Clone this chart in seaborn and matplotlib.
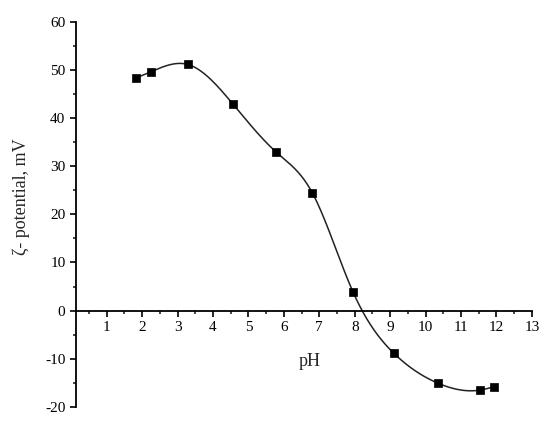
import numpy as np
import pandas as pd
import seaborn as sns
import matplotlib.pyplot as plt
from matplotlib.ticker import MultipleLocator

# data
ph = [1.83, 2.25, 3.29, 4.56, 5.77, 6.80, 7.95, 9.11, 10.36, 11.54, 11.93]
zeta = [48.3, 49.6, 51.1, 42.9, 33.0, 24.5, 3.9, -8.9, -15.1, -16.5, -15.8]
x_ticks = list(range(1, 14))
y_ticks = list(range(-20, 61, 10))


def natural_spline(x, y, n=400):
    # plain natural cubic spline, like the smooth line Origin draws
    x = np.asarray(x, float)
    y = np.asarray(y, float)
    k = len(x)
    h = np.diff(x)
    A = np.zeros((k, k))
    r = np.zeros(k)
    A[0, 0] = A[-1, -1] = 1
    for i in range(1, k - 1):
        A[i, i - 1] = h[i - 1]
        A[i, i] = 2 * (h[i - 1] + h[i])
        A[i, i + 1] = h[i]
        r[i] = 6 * ((y[i + 1] - y[i]) / h[i] - (y[i] - y[i - 1]) / h[i - 1])
    m = np.linalg.solve(A, r)
    xs = np.linspace(x[0], x[-1], n)
    idx = np.clip(np.searchsorted(x, xs) - 1, 0, k - 2)
    x0, x1 = x[idx], x[idx + 1]
    hh = x1 - x0
    a = (x1 - xs) / hh
    b = (xs - x0) / hh
    ys = (a * y[idx] + b * y[idx + 1]
          + ((a ** 3 - a) * m[idx] + (b ** 3 - b) * m[idx + 1]) * hh ** 2 / 6)
    return xs, ys


sns.set_style("ticks")
plt.rcParams["font.family"] = ["Liberation Serif", "DejaVu Serif"]
plt.rcParams["axes.unicode_minus"] = False

fig = plt.figure(figsize=(5.5, 4.32), dpi=100)
ax = fig.add_axes([0.138, 0.058, 0.829, 0.892])

xs, ys = natural_spline(ph, zeta)
curve = pd.DataFrame({"pH": xs, "zeta": ys})
points = pd.DataFrame({"pH": ph, "zeta": zeta})

sns.lineplot(data=curve, x="pH", y="zeta", ax=ax, color="#222222", lw=1.1)
sns.scatterplot(data=points, x="pH", y="zeta", ax=ax, marker="s", s=34,
                color="black", edgecolor="black", linewidth=0.5, zorder=3)

ax.set_xlim(0.13, 13)
ax.set_ylim(-20, 60)
ax.spines["bottom"].set_position(("data", 0))
ax.spines["top"].set_visible(False)
ax.spines["right"].set_visible(False)
for s in ("left", "bottom"):
    ax.spines[s].set_linewidth(1.3)
    ax.spines[s].set_color("black")

ax.set_xticks(x_ticks)
ax.set_yticks(y_ticks)
ax.xaxis.set_minor_locator(MultipleLocator(0.5))
ax.yaxis.set_minor_locator(MultipleLocator(5))
ax.tick_params(axis="both", which="major", direction="out", length=4,
               width=1.2, labelsize=11, colors="black")
ax.tick_params(axis="both", which="minor", direction="out", length=2, width=1.2)

ax.set_xlabel("pH", fontsize=13)
ax.xaxis.set_label_coords(0.513, 0.14)
ax.set_ylabel("ζ- potential, mV", fontsize=13)
ax.yaxis.set_label_coords(-0.10, 0.545)

fig.savefig("out.png", dpi=100)
